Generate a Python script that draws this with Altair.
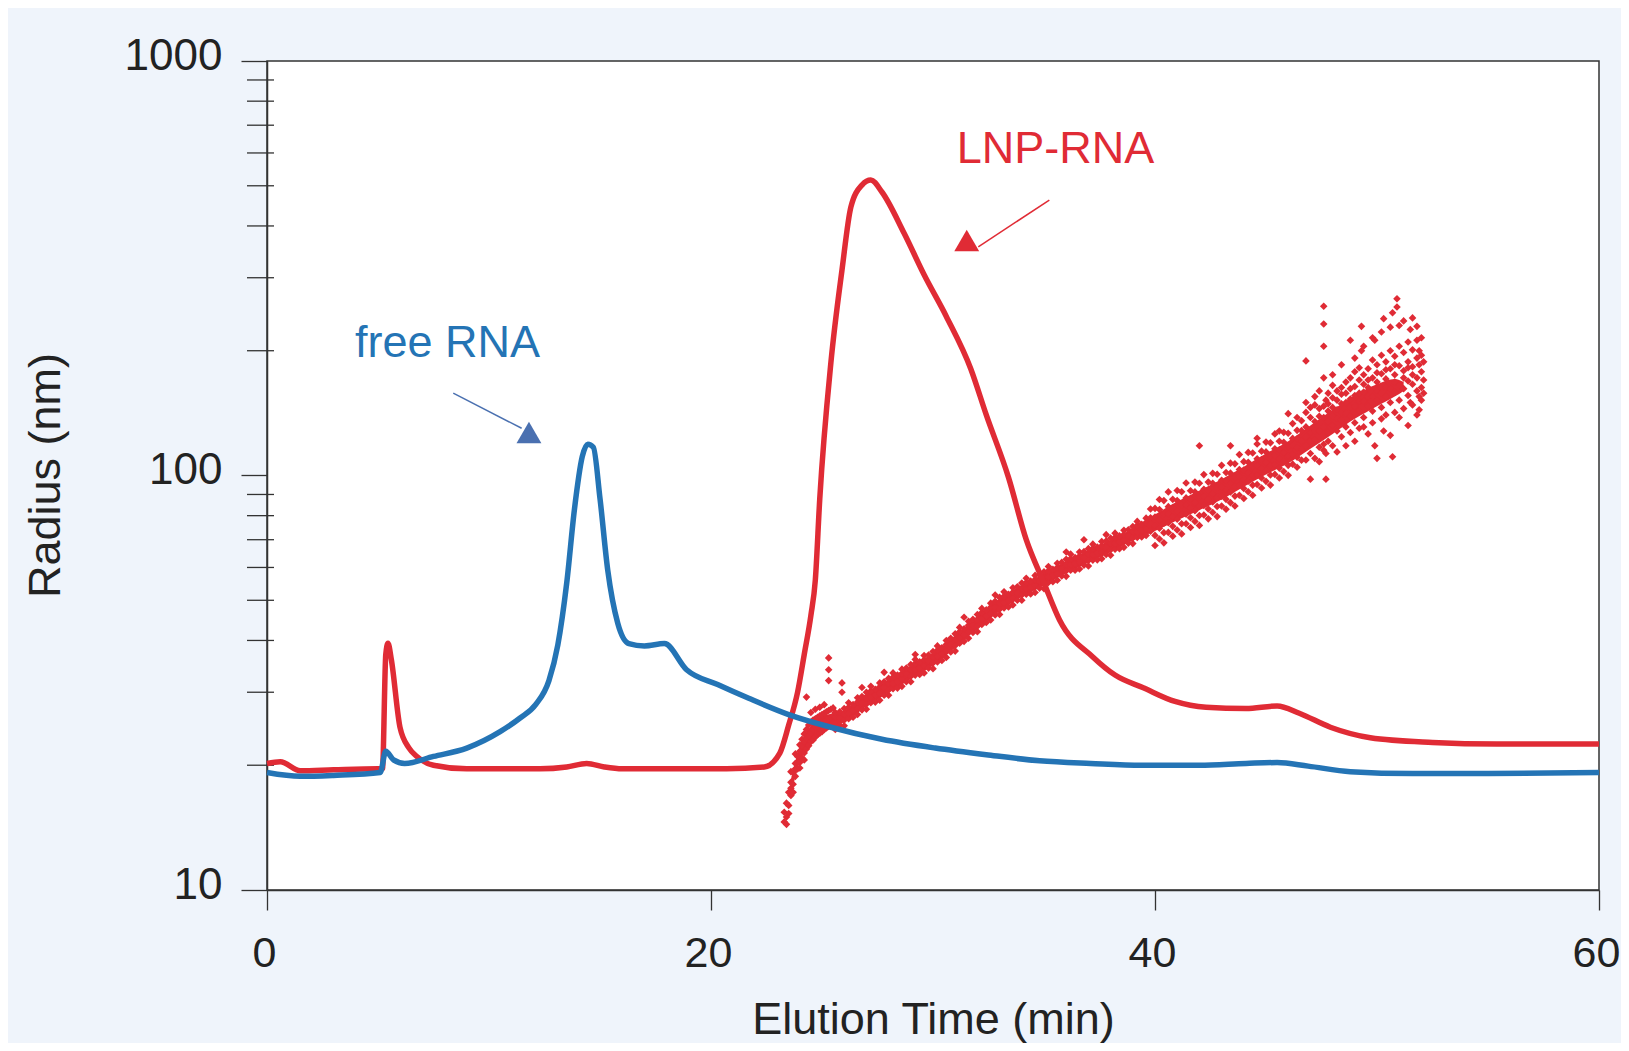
import altair as alt
import pandas as pd

# ---------------- data ----------------
blue_time = [0, 1.5, 3.0, 5.1, 5.35, 5.7, 6.2, 7.5, 9.0, 10.5, 11.4, 12.1, 12.7, 13.1, 13.5,
             13.85, 14.2, 14.45, 14.7, 15.0, 15.35, 15.8, 16.3, 17.0, 17.9, 18.9, 20.3, 21.7,
             23.5, 25.4, 27.7, 30.1, 32.4, 34.8, 37.1, 39.4, 42.0, 44.1, 45.5, 46.9, 48.8,
             51.6, 55.0, 60.0]
blue_radius = [19.2, 18.8, 18.9, 19.2, 21.6, 20.6, 20.2, 21.0, 22.0, 24.1, 26.0, 28.0, 32.0, 39.0,
               55.0, 83.0, 111.0, 119.0, 117.0, 88.0, 59.0, 44.0, 39.3, 38.8, 39.3, 34.0, 31.3,
               29.0, 26.5, 24.7, 23.1, 22.0, 21.2, 20.5, 20.2, 20.0, 20.0, 20.2, 20.3, 19.9, 19.3,
               19.1, 19.1, 19.2]

red_time = [0, 0.6, 1.5, 3.0, 5.0, 5.2, 5.35, 5.45, 5.6, 5.99, 6.4, 6.75, 7.5, 9.0, 12.3, 13.5,
            14.4, 15.2, 16.0, 20.7, 22.4, 23.1, 23.5, 23.9, 24.2, 24.5, 24.7, 24.9, 25.4, 25.9,
            26.3, 26.8, 27.2, 27.7, 28.7, 29.6, 30.6, 31.7, 32.4, 33.4, 34.2, 35.0, 35.7, 37.2,
            38.2, 39.5, 40.9, 42.3, 44.1, 45.5, 46.5, 47.9, 49.7, 52.5, 55.4, 60.0]
red_radius = [20.2, 20.4, 19.4, 19.5, 19.6, 19.6, 37.0, 39.4, 36.0, 24.7, 22.0, 21.0, 20.0, 19.6,
              19.6, 19.8, 20.2, 19.8, 19.6, 19.6, 19.8, 21.4, 25.0, 30.0, 37.0, 46.0, 56.0, 88.0,
              187.0, 313.0, 444.0, 502.0, 516.0, 483.0, 384.0, 305.0, 242.0, 181.0, 140.0, 99.0,
              70.0, 55.0, 44.8, 36.5, 33.0, 30.7, 28.5, 27.6, 27.4, 27.8, 26.7, 24.7, 23.3, 22.7,
              22.5, 22.5]

# dense core of the LNP-RNA scatter cloud (lower / upper edge)
core_time = [23.6, 24.0, 24.5, 25.0, 26.0, 27.0, 28.0, 29.0, 30.0, 31.0, 32.0, 33.0, 34.0,
             35.0, 36.0, 37.0, 38.0, 39.0, 40.0, 41.0, 42.0, 43.0, 44.0, 45.0, 46.0, 47.0,
             48.0, 49.0, 50.0, 50.8, 51.2]
core_low = [17.0, 20.3, 22.9, 24.3, 25.4, 27.7, 29.9, 32.3, 34.8, 38.4, 42.7, 47.0, 50.9,
            54.3, 58.1, 61.6, 65.3, 69.7, 73.5, 78.0, 82.5, 87.5, 94.0, 100.5, 107.0, 116.0,
            126.0, 137.0, 147.0, 155.0, 160.0]
core_high = [18.5, 22.2, 24.9, 26.2, 27.1, 29.8, 32.2, 34.8, 37.3, 41.1, 45.8, 50.4, 54.4,
             58.0, 62.2, 65.9, 69.9, 74.5, 80.5, 86.5, 92.0, 98.0, 105.0, 113.0, 121.0, 132.0,
             144.0, 156.0, 166.0, 171.0, 168.0]

scatter_col_time = [
    23.3, 23.4, 23.5, 23.6, 23.7, 23.8, 23.9, 24.0, 24.1, 24.2, 24.3, 24.4, 24.5, 24.6, 24.7,
    24.8, 24.9, 25.0, 25.1, 25.2, 25.3, 25.4, 25.5, 25.6, 25.8, 25.9, 26.0, 26.2, 26.4, 26.6,
    26.8, 27.0, 27.2, 27.4, 27.6, 27.8, 28.0, 28.2, 28.4, 28.6, 28.8, 29.0, 29.2, 29.4, 29.6,
    29.8, 30.0, 30.2, 30.4, 30.6, 30.8, 31.0, 31.2, 31.4, 31.6, 31.8, 32.0, 32.2, 32.4, 32.6,
    32.8, 33.0, 33.2, 33.4, 33.6, 33.8, 34.0, 34.2, 34.4, 34.6, 34.8, 35.0, 35.2, 35.4, 35.6,
    35.8, 36.0, 36.2, 36.4, 36.6, 36.8, 37.0, 37.2, 37.4, 37.6, 37.8, 38.0, 38.2, 38.4, 38.6,
    38.8, 39.0, 39.2, 39.4, 39.6, 39.8, 40.0, 40.2, 40.4, 40.6, 40.8, 41.0, 41.2, 41.4, 41.6,
    41.8, 42.0, 42.2, 42.4, 42.6, 42.8, 43.0, 43.2, 43.4, 43.6, 43.8, 44.0, 44.2, 44.4, 44.6,
    44.8, 45.0, 45.2, 45.4, 45.6, 45.8, 46.0, 46.2, 46.4, 46.6, 46.8, 47.0, 47.2, 47.4, 47.6,
    47.7, 47.8, 48.0, 48.2, 48.4, 48.6, 48.8, 49.0, 49.2, 49.3, 49.4, 49.6, 49.8, 49.9, 50.0,
    50.2, 50.3, 50.4, 50.6, 50.7, 50.8, 50.9, 51.0, 51.2, 51.4, 51.5, 51.6, 51.8, 51.9, 52.0,
    52.1,
]
scatter_col_radius = [
    [14.6, 15.4], [15.0, 16.2, 14.4], [16.0, 17.2, 15.3], [16.9, 18.2, 17.6, 19.3],
    [18.0, 19.2, 17.2], [18.8, 20.2, 19.6, 21.3], [19.6, 21.0, 20.3], [20.3, 21.6, 22.4, 19.7],
    [20.8, 22.3, 23.1], [21.4, 22.8, 23.8, 20.6], [21.9, 23.2, 24.4, 29.2], [22.3, 23.6, 25.0],
    [22.8, 24.0, 25.4, 26.8], [23.0, 24.4, 25.7], [23.4, 24.7, 25.9, 27.3], [23.7, 24.9, 26.1],
    [23.9, 25.1, 26.3, 27.6], [24.1, 25.3, 26.5], [24.4, 25.5, 26.7, 28.0], [24.6, 25.7, 26.9],
    [24.8, 25.9, 27.1, 32.0, 34.0, 36.3], [25.0, 26.1, 27.3], [25.2, 26.3, 27.5],
    [24.4, 25.2, 26.1, 26.8], [25.0, 26.0, 26.9], [31.6, 30.0], [24.9, 25.7, 26.6, 27.4],
    [25.9, 26.7, 27.6, 28.3], [26.1, 27.1, 28.0], [26.5, 27.4, 28.4, 29.1],
    [27.2, 28.3, 29.3, 30.8], [27.3, 28.1, 29.1, 30.0], [28.3, 29.2, 30.2, 31.0],
    [28.4, 29.5, 30.5], [28.7, 29.8, 30.9, 31.6], [29.5, 30.8, 31.8, 33.5],
    [29.5, 30.4, 31.5, 32.4], [30.6, 31.5, 32.6, 33.4], [30.7, 31.8, 33.0],
    [31.0, 32.2, 33.3, 34.1], [31.8, 33.2, 34.3], [31.8, 32.8, 34.0, 35.0],
    [33.0, 34.0, 35.2, 36.0, 37.0], [33.1, 34.3, 35.5], [33.4, 34.7, 35.9, 36.8],
    [34.3, 35.7, 36.9], [34.2, 35.3, 36.5, 37.6], [35.5, 36.6, 37.9, 38.8], [35.8, 37.1, 38.4],
    [36.4, 37.7, 39.1, 40.0], [37.5, 39.1, 40.5], [37.7, 38.9, 40.3, 41.5],
    [39.4, 40.6, 42.0, 43.0], [39.8, 41.3, 42.7, 45.5], [40.5, 42.0, 43.5, 44.5],
    [41.8, 43.5, 45.0], [42.0, 43.3, 44.9, 46.2], [43.7, 45.1, 46.7, 47.8], [44.2, 45.8, 47.4],
    [44.8, 46.4, 48.1, 49.2], [46.1, 48.0, 49.7, 51.5], [46.2, 47.6, 49.3, 50.8],
    [47.9, 49.4, 51.1, 52.4], [48.2, 49.9, 51.7], [48.7, 50.5, 52.3, 53.6], [50.0, 52.1, 53.9],
    [50.0, 51.5, 53.4, 55.0], [51.7, 53.3, 55.2, 56.5], [51.8, 53.7, 55.6],
    [52.2, 54.2, 56.1, 57.4], [53.5, 55.7, 57.6], [53.3, 55.0, 56.9, 58.6],
    [55.2, 56.9, 58.9, 60.3], [55.4, 57.4, 59.4], [55.9, 57.9, 60.0, 61.4], [57.2, 59.6, 61.7],
    [57.1, 58.9, 61.0, 62.8, 65.4], [59.1, 60.9, 63.0, 64.6], [59.1, 61.3, 63.4],
    [59.5, 61.7, 63.9, 65.4], [60.8, 63.3, 65.5, 70.0], [60.5, 62.4, 64.7, 66.6],
    [62.5, 64.4, 66.7, 68.3], [62.6, 64.9, 67.2], [63.0, 65.3, 67.7, 69.3],
    [64.5, 67.1, 69.5, 72.0], [64.2, 66.2, 68.6, 70.6], [66.4, 68.5, 70.9, 72.6],
    [66.6, 69.1, 71.5], [67.1, 69.6, 72.1, 73.8], [68.7, 71.6, 74.0], [68.5, 70.7, 73.2, 75.3],
    [70.9, 73.1, 75.7, 77.5], [71.1, 73.7, 76.3], [71.7, 74.3, 77.0, 78.9],
    [73.4, 76.5, 79.1, 83.0], [67.8, 71.7, 75.6, 79.4, 83.3], [70.3, 74.6, 78.1, 82.8, 87.5],
    [68.8, 72.8, 76.7, 80.7, 87.0], [72.9, 76.9, 80.9, 84.1, 91.3],
    [71.4, 75.4, 79.5, 83.5, 87.6], [73.9, 78.4, 82.1, 87.0, 92.0],
    [72.3, 76.5, 80.6, 84.8, 91.4], [76.5, 80.7, 84.9, 88.3, 95.9],
    [74.9, 79.1, 83.4, 87.7, 91.9], [77.5, 82.2, 86.1, 91.3, 96.4],
    [75.8, 80.1, 84.5, 88.8, 95.8, 118.0], [80.3, 84.7, 89.1, 92.6, 100.5],
    [78.6, 83.0, 87.5, 92.0, 96.4], [81.4, 86.3, 90.4, 95.8, 101.2],
    [79.6, 84.2, 88.8, 93.3, 100.7], [84.4, 89.1, 93.7, 97.4, 105.8],
    [82.9, 87.6, 92.3, 97.0, 101.7], [86.0, 91.3, 95.6, 101.3, 107.1, 118.0],
    [84.4, 89.2, 94.1, 98.9, 106.7], [89.6, 94.6, 99.5, 103.4, 112.3],
    [88.0, 93.0, 98.0, 103.0, 108.0], [91.4, 96.9, 101.5, 107.6, 113.7],
    [89.6, 94.8, 99.9, 105.1, 113.3], [95.1, 100.3, 105.5, 109.7, 119.1, 123.0],
    [93.3, 98.6, 103.9, 109.2, 114.5], [96.8, 102.7, 107.5, 114.0, 120.4],
    [94.8, 100.3, 105.7, 111.2, 119.9], [100.6, 106.1, 111.6, 116.0, 126.0],
    [98.6, 104.2, 109.8, 115.4, 121.0, 128.0], [102.2, 108.4, 113.5, 120.3, 127.1],
    [100.1, 105.8, 111.6, 117.3, 126.5, 141.0], [106.5, 112.3, 118.2, 122.9, 133.4],
    [104.7, 110.7, 116.6, 122.6, 128.5, 138.0], [108.9, 115.6, 121.0, 128.3, 135.5],
    [118.0, 131.0, 109.0, 142.0, 189.0, 150.0, 124.0],
    [127.0, 113.0, 138.0, 98.0, 121.0, 146.0],
    [122.0, 135.0, 110.0, 148.0, 128.0, 155.0],
    [139.0, 117.0, 128.0, 160.0, 108.0, 145.0],
    [131.0, 147.0, 119.0, 256.0, 232.0, 205.0, 172.0, 138.0, 115.0],
    [98.0, 113.0, 152.0],
    [127.0, 143.0, 158.0, 121.0, 135.0, 149.0],
    [146.0, 132.0, 165.0, 175.0, 118.0, 139.0, 154.0],
    [137.0, 152.0, 128.0, 160.0, 114.0, 144.0],
    [149.0, 136.0, 163.0, 185.0, 124.0, 157.0, 142.0],
    [141.0, 158.0, 131.0, 168.0, 118.0, 150.0],
    [153.0, 139.0, 172.0, 212.0, 127.0, 162.0, 146.0],
    [147.0, 164.0, 134.0, 192.0, 121.0, 156.0, 178.0],
    [158.0, 143.0, 170.0, 182.0, 130.0, 151.0],
    [229.0, 200.0],
    [151.0, 166.0, 138.0, 205.0, 131.0, 159.0, 175.0],
    [163.0, 147.0, 181.0, 170.0, 126.0, 155.0],
    [155.0, 172.0, 143.0, 215.0, 134.0, 190.0],
    [212.0, 118.0],
    [168.0, 152.0, 185.0, 177.0, 110.0, 160.0],
    [158.0, 176.0, 146.0, 222.0, 137.0, 195.0],
    [239.0, 128.0],
    [171.0, 155.0, 188.0, 180.0, 140.0, 163.0],
    [162.0, 181.0, 150.0, 228.0, 125.0, 200.0],
    [111.0, 247.0],
    [175.0, 159.0, 194.0, 185.0, 142.0, 168.0],
    [267.0, 255.0],
    [165.0, 184.0, 152.0, 230.0, 138.0, 205.0],
    [179.0, 162.0, 198.0, 236.0, 145.0, 172.0],
    [169.0, 188.0, 156.0, 210.0, 132.0, 182.0],
    [225.0, 150.0],
    [183.0, 166.0, 201.0, 240.0, 148.0, 175.0],
    [172.0, 192.0, 160.0, 229.0, 212.0, 140.0],
    [144.0, 185.0, 200.0, 155.0],
    [178.0, 163.0, 195.0, 215.0, 152.0],
    [170.0, 188.0, 158.0],
]

label_text = ["free RNA", "LNP-RNA"]
label_time = [3.96, 31.07]
label_radius = [193.0, 566.0]

arrow_time = [8.39, 35.24]
arrow_radius = [158.0, 462.0]
arrow_time2 = [11.47, 32.04]
arrow_radius2 = [130.0, 356.0]
head_time = [11.80, 31.52]
head_radius = [127.0, 369.0]

x_tick_values = [0, 20, 40, 60]
y_major_values = [10, 100, 1000]
y_minor_values = [20, 30, 40, 50, 60, 70, 80, 90, 200, 300, 400, 500, 600, 700, 800, 900]

RED = "#e02b35"
BLUE = "#2474b5"
ARROW_BLUE = "#4a70b0"
INK = "#222222"
FONT = "Liberation Sans"

# ---------------- tables ----------------
blue_df = pd.DataFrame({"t": blue_time, "r": blue_radius})
red_df = pd.DataFrame({"t": red_time, "r": red_radius})
core_df = pd.DataFrame({"t": core_time, "r": core_low, "r2": core_high})
sc_t, sc_r = [], []
for t, rs in zip(scatter_col_time, scatter_col_radius):
    for r in rs:
        sc_t.append(t)
        sc_r.append(r)
scatter_df = pd.DataFrame({"t": sc_t, "r": sc_r})
label_df = pd.DataFrame({"t": label_time, "r": label_radius, "label": label_text,
                         "c": [BLUE, RED]})
arrow_df = pd.DataFrame({"t": arrow_time, "r": arrow_radius, "t2": arrow_time2,
                         "r2": arrow_radius2, "c": [ARROW_BLUE, RED]})
head_df = pd.DataFrame({"t": head_time, "r": head_radius, "c": [ARROW_BLUE, RED]})
minor_df = pd.DataFrame({"r": y_minor_values})

x_scale = alt.Scale(domain=[0, 60], nice=False, zero=False)
y_scale = alt.Scale(type="log", domain=[10, 1000], nice=False)

x_axis = alt.Axis(values=x_tick_values, format="d", title="Elution Time (min)", grid=False,
                  labelFontSize=43, labelFont=FONT, labelColor=INK, labelFlush=False,
                  labelPadding=22, labelOffset=-3, tickSize=20, tickColor="#333",
                  tickWidth=1.3, domainColor="#333", domainWidth=1.5,
                  titleFont=FONT, titleFontSize=45, titleFontWeight="normal", titleColor=INK,
                  titleY=143, titleBaseline="alphabetic")
y_axis = alt.Axis(values=y_major_values, format="d", title="Radius (nm)", grid=False,
                  labelFontSize=44, labelFont=FONT, labelColor=INK, labelFlush=False,
                  labelPadding=19, labelOffset=-5, tickSize=26, tickColor="#333",
                  tickWidth=1.3, domainColor="#333", domainWidth=1.5,
                  titleFont=FONT, titleFontSize=45, titleFontWeight="normal", titleColor=INK,
                  titleAngle=270, titleX=-208, titleY=414, titleBaseline="alphabetic",
                  titleAlign="center")

X = alt.X("t:Q", scale=x_scale, axis=x_axis)
Y = alt.Y("r:Q", scale=y_scale, axis=y_axis)

minor = alt.Chart(minor_df).mark_rule(color="#333", strokeWidth=1.3).encode(
    y=Y, x=alt.value(-20), x2=alt.value(7))

core = alt.Chart(core_df).mark_area(color=RED, opacity=1, interpolate="monotone").encode(
    x=X, y=Y, y2="r2:Q")

scatter = alt.Chart(scatter_df).mark_point(shape="diamond", filled=True, size=58, opacity=1,
                                           color=RED).encode(x=X, y=Y)

red_line = alt.Chart(red_df).mark_line(color=RED, strokeWidth=5.5, strokeJoin="round",
                                       interpolate="monotone").encode(x=X, y=Y, order="t:Q")
blue_line = alt.Chart(blue_df).mark_line(color=BLUE, strokeWidth=5.5, strokeJoin="round",
                                         interpolate="monotone").encode(x=X, y=Y, order="t:Q")

labels = alt.Chart(label_df).mark_text(align="left", baseline="alphabetic", fontSize=45,
                                       font=FONT).encode(
    x=X, y=Y, text="label:N", color=alt.Color("c:N", scale=None))

arrows = alt.Chart(arrow_df).mark_rule(strokeWidth=1.5).encode(
    x=X, y=Y, x2="t2:Q", y2="r2:Q", color=alt.Color("c:N", scale=None))

heads = alt.Chart(head_df).mark_point(shape="triangle-up", filled=True, size=620,
                                      opacity=1).encode(
    x=X, y=Y, color=alt.Color("c:N", scale=None))

chart = alt.layer(minor, core, scatter, red_line, blue_line, arrows, heads, labels).properties(
    width=1332, height=829,
    padding={"left": 259, "top": 53, "right": 22, "bottom": 153},
    autosize=alt.AutoSizeParams(type="none"),
    background="#eff4fb",
).configure_view(fill="white", stroke="#333", strokeWidth=1.5)

chart.save("out.html", embed_options={"renderer": "svg", "actions": False})
